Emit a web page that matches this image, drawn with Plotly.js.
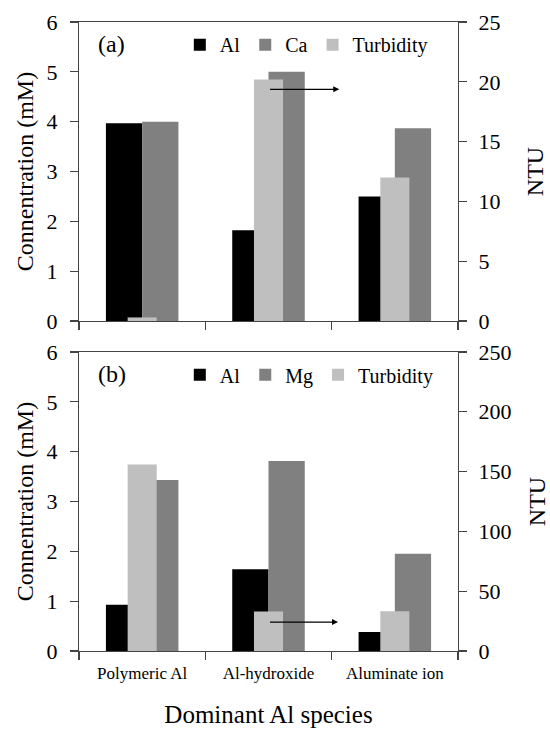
<!DOCTYPE html>
<html>
<head>
<meta charset="utf-8">
<script src="https://cdn.plot.ly/plotly-3.0.1.min.js"></script>
<style>html,body{margin:0;padding:0;background:#fff;}#chart{width:550px;height:729px;}</style>
</head>
<body>
<div id="chart"></div>
<script>
// Data
var categories = ["Polymeric Al", "Al-hydroxide", "Aluminate ion"];
var alA = [3.97, 1.82, 2.50];        // mM, panel (a)
var caA = [4.00, 5.00, 3.87];        // mM, panel (a)
var turbA = [0.3, 20.2, 12.0];       // NTU, panel (a)
var alB = [0.93, 1.64, 0.38];        // mM, panel (b)
var mgB = [3.43, 3.81, 1.95];        // mM, panel (b)
var turbB = [156, 33, 33.2];         // NTU, panel (b)
var leftTicks = [0, 1, 2, 3, 4, 5, 6];
var rightTicksA = [0, 5, 10, 15, 20, 25];
var rightTicksB = [0, 50, 100, 150, 200, 250];

var FONT = 'Liberation Serif';
var BW = 0.287, TW = 0.23;
var cBlack = '#000000', cDark = '#808080', cLight = '#bfbfbf';

function bar(name, x, y, xa, ya, color, off, w, leg, showleg) {
  return {type: 'bar', name: name, x: x, y: y, xaxis: xa, yaxis: ya,
    marker: {color: color, line: {width: 0}}, offset: off, width: w,
    legend: leg, showlegend: showleg};
}

var traces = [
  bar('Al', categories, alA, 'x', 'y', cBlack, -BW, BW, 'legend', true),
  bar('Ca', categories, caA, 'x', 'y', cDark, 0, BW, 'legend', true),
  bar('Turbidity', categories, turbA, 'x', 'y2', cLight, -TW/2, TW, 'legend', true),
  bar('Al', categories, alB, 'x2', 'y3', cBlack, -BW, BW, 'legend2', true),
  bar('Mg', categories, mgB, 'x2', 'y3', cDark, 0, BW, 'legend2', true),
  bar('Turbidity', categories, turbB, 'x2', 'y4', cLight, -TW/2, TW, 'legend2', true)
];

var axLine = {showline: true, linecolor: '#444', linewidth: 1.2, ticks: 'outside', ticklen: 8, tickcolor: '#444', tickwidth: 1.2, showgrid: false, zeroline: false};

function xax(anchor, labels) {
  return Object.assign({}, axLine, {type: 'category', anchor: anchor, range: [-0.5, 2.5],
    tickson: 'boundaries', showticklabels: labels, mirror: true, ticklabelstandoff: 6,
    tickfont: {family: FONT, size: 17, color: '#000'}});
}
function yl(domain, anchor, title) {
  return Object.assign({}, axLine, {domain: domain, anchor: anchor, range: [0, 6], tickvals: leftTicks,
    ticklabelstandoff: 8,
    tickfont: {family: FONT, size: 22, color: '#000'},
    title: {text: title, font: {family: FONT, size: 24, color: '#000'}, standoff: 6}});
}
function yr(overlay, anchor, ticks, rng) {
  return Object.assign({}, axLine, {overlaying: overlay, anchor: anchor, side: 'right', range: rng, tickvals: ticks,
    ticklabelstandoff: 7,
    tickfont: {family: FONT, size: 22, color: '#000'},
    title: {text: 'NTU', font: {family: FONT, size: 24, color: '#000'}, standoff: 26}});
}

var xa2 = xax('y3', true);
xa2.title = {text: 'Dominant Al species', font: {family: FONT, size: 25, color: '#000'}, standoff: 24};

var legendBase = {orientation: 'h', xanchor: 'left', yanchor: 'top', bgcolor: 'rgba(0,0,0,0)',
  font: {family: FONT, size: 20, color: '#000'}, itemwidth: 30, traceorder: 'normal'};

var layout = {
  width: 550, height: 729,
  margin: {l: 79, r: 92, t: 22, b: 78},
  paper_bgcolor: '#fff', plot_bgcolor: '#fff',
  barmode: 'overlay',
  xaxis: xax('y', false),
  xaxis2: xa2,
  yaxis: yl([0.5246, 1], 'x', 'Connentration (mM)'),
  yaxis2: yr('y', 'x', rightTicksA, [0, 25]),
  yaxis3: yl([0, 0.4754], 'x2', 'Connentration (mM)'),
  yaxis4: yr('y3', 'x2', rightTicksB, [0, 250]),
  legend: Object.assign({}, legendBase, {x: 0.266, y: 0.995}),
  legend2: Object.assign({}, legendBase, {x: 0.266, y: 0.47}),
  annotations: [
    {text: '(a)', xref: 'paper', yref: 'paper', x: 0.045, y: 0.965, xanchor: 'left', yanchor: 'middle',
     showarrow: false, font: {family: FONT, size: 24, color: '#000'}},
    {text: '(b)', xref: 'paper', yref: 'paper', x: 0.045, y: 0.44, xanchor: 'left', yanchor: 'middle',
     showarrow: false, font: {family: FONT, size: 24, color: '#000'}},
    {text: '', xref: 'x', yref: 'y', axref: 'x', ayref: 'y', x: 1.56, y: 4.65, ax: 1.0, ay: 4.65,
     showarrow: true, arrowhead: 2, arrowsize: 1, arrowwidth: 1.2, arrowcolor: '#000'},
    {text: '', xref: 'x2', yref: 'y3', axref: 'x2', ayref: 'y3', x: 1.55, y: 0.58, ax: 1.0, ay: 0.58,
     showarrow: true, arrowhead: 2, arrowsize: 1, arrowwidth: 1.2, arrowcolor: '#000'}
  ]
};

Plotly.newPlot('chart', traces, layout, {displayModeBar: false, staticPlot: true});
</script>
</body>
</html>
